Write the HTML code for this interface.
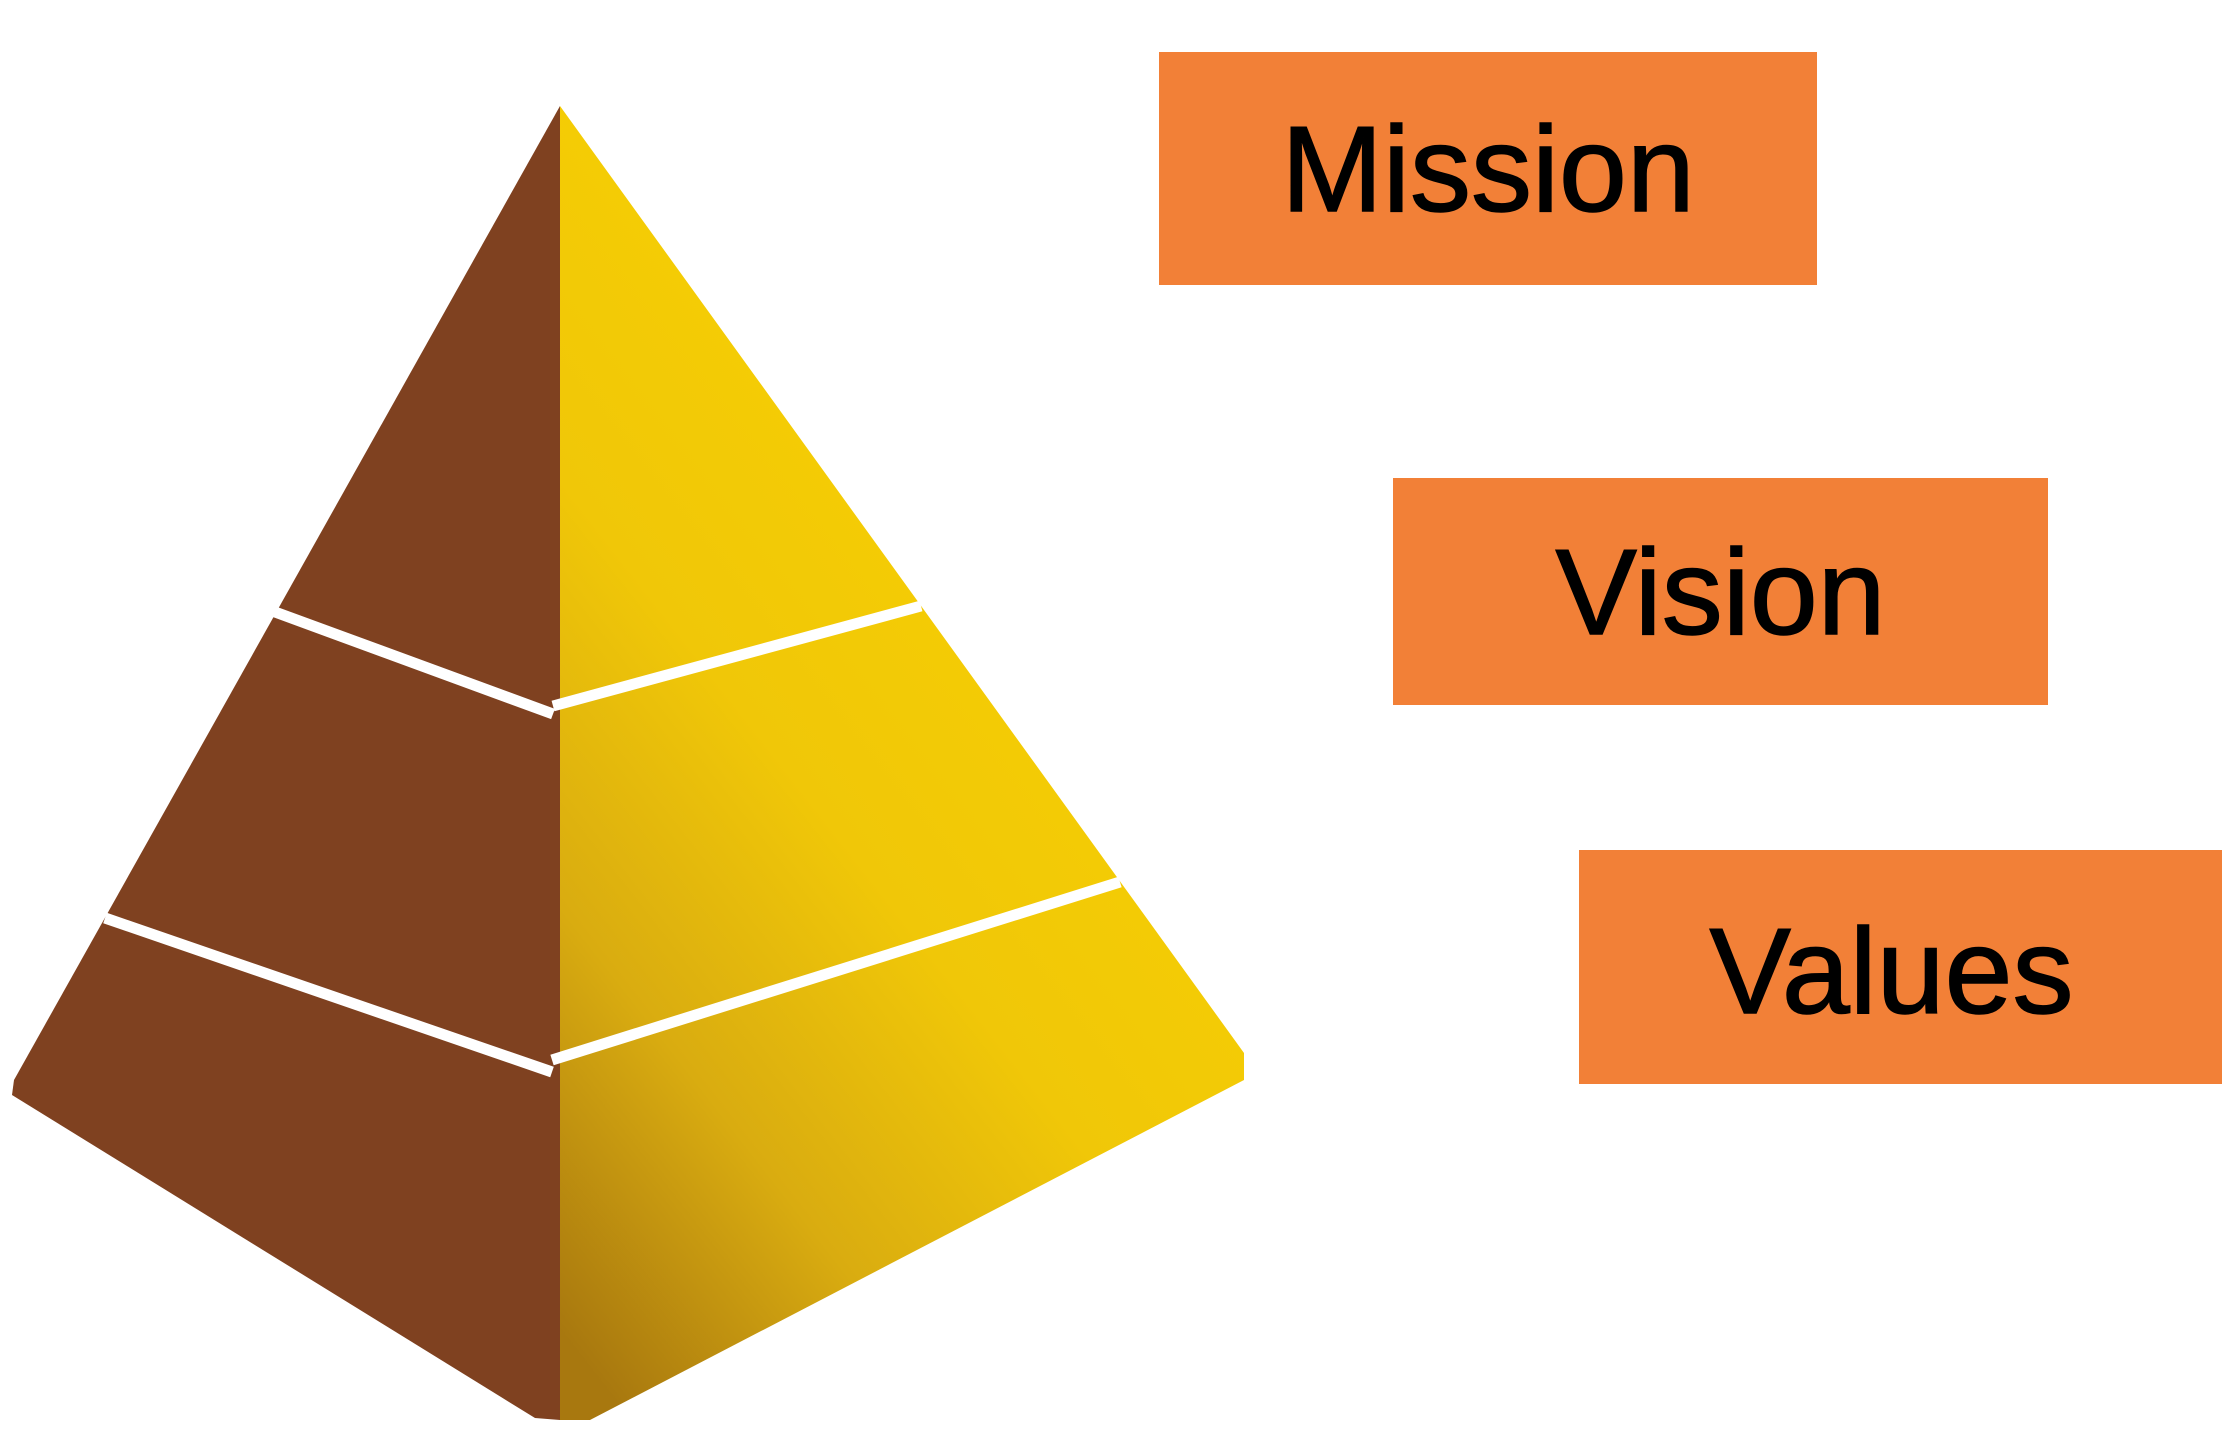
<!DOCTYPE html>
<html><head><style>
html,body{margin:0;padding:0;background:#fff;width:2222px;height:1442px;overflow:hidden}
.box{position:absolute;background:#F28037;color:#000;font-family:"Liberation Sans",sans-serif;font-size:122px;display:flex;align-items:center;justify-content:center;-webkit-text-stroke:1.5px #000;box-sizing:border-box}
</style></head><body>
<svg width="2222" height="1442" style="position:absolute;left:0;top:0">
<defs>
<linearGradient id="g" x1="0.7" y1="0.1" x2="0.1" y2="1">
<stop offset="0" stop-color="#F9D200"/>
<stop offset="0.5" stop-color="#F0C708"/>
<stop offset="0.75" stop-color="#D9AC10"/>
<stop offset="1" stop-color="#A8780F"/>
</linearGradient>
</defs>
<polygon points="560,106 14,1080 12,1095 535,1418 560,1420" fill="#7F4120"/>
<polygon points="560,106 1244,1053 1244,1080 590,1420 560,1420" fill="url(#g)"/>
<g stroke="#fff" stroke-width="11" fill="none">
<polyline points="275,612 553,714"/>
<polyline points="553,706 921,606"/>
<polyline points="105,918 552,1072"/>
<polyline points="552,1060 1120,882"/>
</g>
</svg>
<div class="box" style="left:1159px;top:52px;width:658px;height:233px">Mission</div>
<div class="box" style="left:1393px;top:478px;width:655px;height:227px">Vision</div>
<div class="box" style="left:1579px;top:850px;width:643px;padding-right:18px;padding-top:8px;height:234px">Values</div>
</body></html>
